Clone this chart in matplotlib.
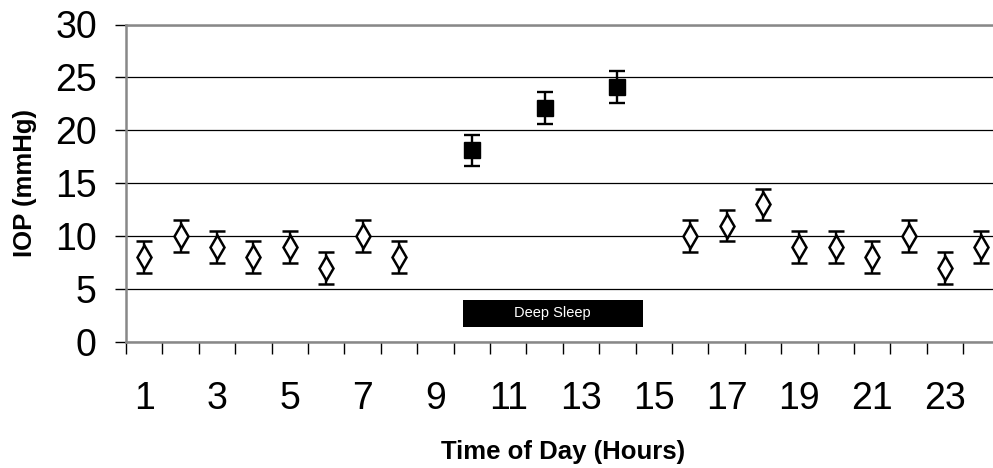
import numpy as np
import matplotlib.pyplot as plt
from matplotlib.patches import Rectangle

plt.rcParams['font.family'] = ['Liberation Sans', 'DejaVu Sans']

hours = np.arange(1, 25)
awake_iop = [8, 10, 9, 8, 9, 7, 10, 8, np.nan, np.nan, np.nan, np.nan, np.nan, np.nan, np.nan,
             10, 11, 13, 9, 9, 8, 10, 7, 9]
awake_err = [1.5] * 24
sleep_hours = [10, 12, 14]
sleep_iop = [18.1, 22.1, 24.1]
sleep_err = [1.5, 1.5, 1.5]
tick_hours = list(range(1, 24, 2))

fig = plt.figure(figsize=(9.93, 4.68), dpi=100)
ax = fig.add_axes([126 / 993, 126 / 468, 873.6 / 993, 317.5 / 468])

ax.errorbar(hours, awake_iop, yerr=awake_err, fmt='d', mfc='white', mec='black', mew=1.8,
            ms=12.5, ecolor='black', elinewidth=1.7, capsize=5.5, capthick=1.7, zorder=3)
ax.errorbar(sleep_hours, sleep_iop, yerr=sleep_err, fmt='s', color='black', ms=11,
            ecolor='black', elinewidth=1.7, capsize=5.5, capthick=1.7, zorder=3)

ax.set_xlim(0.5, 24.5)
ax.set_ylim(0, 30)
ax.set_yticks(range(0, 31, 5))
ax.yaxis.grid(True, color='black', linewidth=0.9)
ax.set_axisbelow(True)

ax.set_xticks(tick_hours)
ax.set_xticks(np.arange(0.5, 25, 1), minor=True)
ax.tick_params(axis='x', which='major', length=0, pad=28, labelsize=27)
ax.tick_params(axis='x', which='minor', length=8.5, width=1, color='black', direction='out')
ax.tick_params(axis='y', length=8, width=1, color='black', pad=13, labelsize=27)

for side in ['left', 'bottom', 'top']:
    ax.spines[side].set_color('#888888')
    ax.spines[side].set_linewidth(1.8)
ax.spines['right'].set_visible(False)

ax.add_patch(Rectangle((9.75, 1.45), 4.95, 2.5, facecolor='black', edgecolor='none', zorder=2))
ax.text(12.2, 2.75, 'Deep Sleep', color='white', fontsize=10.5, ha='center', va='center', zorder=4)

ax.set_xlabel('Time of Day (Hours)', fontsize=18.5, fontweight='bold', labelpad=17)
ax.set_ylabel('IOP (mmHg)', fontsize=18.5, fontweight='bold', labelpad=13)

fig.savefig('out.png', dpi=100)
